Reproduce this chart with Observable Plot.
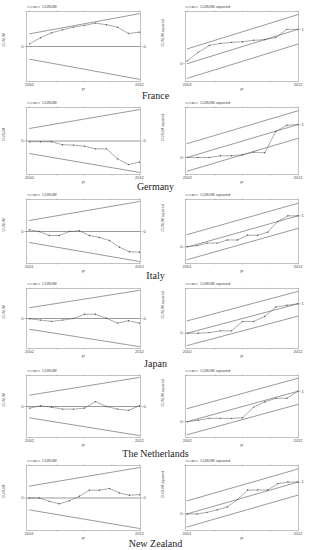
<!DOCTYPE html>
<html><head><meta charset="utf-8">
<script src="https://cdn.jsdelivr.net/npm/d3@7"></script>
<script src="https://cdn.jsdelivr.net/npm/@observablehq/plot@0.6"></script>
<style>
html,body{margin:0;padding:0;background:#fff;}
#root{position:relative;width:311px;height:550px;overflow:hidden;font-family:"Liberation Sans",Arial,sans-serif;}
.panel{position:absolute;}
.country{position:absolute;left:0;width:311px;text-align:center;font-family:"Liberation Serif",serif;font-size:10px;line-height:10px;color:#222;}
.legend{position:absolute;}
</style></head><body><div id="root"></div>
<script>
// ---- data ----
const countries = ["France", "Germany", "Italy", "Japan", "The Netherlands", "New Zealand"];
const years2002 = [2002, 2003, 2004, 2005, 2006, 2007, 2008, 2009, 2010, 2011, 2012];
const years2001 = [2001, 2002, 2003, 2004, 2005, 2006, 2007, 2008, 2009, 2010, 2011, 2012];
const ticks2002 = [2002, 2004.5, 2007, 2009.5, 2012];
const ticks2001 = [2001, 2003.75, 2006.5, 2009.25, 2012];
const countryStartYear = [2002, 2002, 2001, 2002, 2002, 2001];

const cusumFrance      = [0.24, 0.80, 1.25, 1.53, 1.77, 1.93, 2.14, 1.99, 1.77, 1.19, 1.31];
const cusumGermany     = [-0.07, -0.07, -0.07, -0.36, -0.39, -0.49, -0.75, -0.75, -1.69, -2.25, -2.02];
const cusumItaly       = [0.17, 0, -0.40, -0.40, 0, 0.07, -0.40, -0.60, -0.90, -1.57, -2.03, -2.07];
const cusumJapan       = [-0.03, -0.17, -0.31, -0.17, 0, 0.45, 0.45, 0.03, -0.49, -0.24, -0.49];
const cusumNetherlands = [-0.17, 0.07, -0.07, -0.27, -0.27, -0.17, 0.50, 0, -0.27, -0.40, 0.07];
const cusumNewZealand  = [0, 0, -0.33, -0.57, -0.27, 0.17, 0.77, 0.77, 0.93, 0.50, 0.27, 0.33];

const cusumsqFrance      = [0.08, 0.33, 0.53, 0.59, 0.62, 0.64, 0.68, 0.70, 0.76, 1.0, 1.0];
const cusumsqGermany     = [0, 0, 0, 0.05, 0.05, 0.08, 0.16, 0.14, 0.79, 0.98, 1.0];
const cusumsqItaly       = [0.02, 0.05, 0.13, 0.13, 0.23, 0.23, 0.38, 0.38, 0.48, 0.82, 1.0, 1.0];
const cusumsqJapan       = [0, 0, 0.02, 0.08, 0.08, 0.40, 0.40, 0.57, 0.89, 0.95, 1.0];
const cusumsqNetherlands = [0, 0.05, 0.11, 0.11, 0.11, 0.13, 0.48, 0.65, 0.77, 0.77, 1.0];
const cusumsqNewZealand  = [0, 0, 0.05, 0.13, 0.22, 0.45, 0.75, 0.75, 0.75, 0.95, 1.0, 1.0];

// 5% bounds: CUSUM bound at first and last year; CUSUM-squared band half-width
const cusumBoundStart = [1.16, 1.20, 1.10, 1.15, 1.17, 1.17];
const cusumBoundEnd   = [3, 3, 3, 3, 3, 3];
const cusumsqOffset   = [0.43, 0.42, 0.40, 0.42, 0.43, 0.41];

const cusumSeries = [cusumFrance, cusumGermany, cusumItaly, cusumJapan, cusumNetherlands, cusumNewZealand];
const cusumsqSeries = [cusumsqFrance, cusumsqGermany, cusumsqItaly, cusumsqJapan, cusumsqNetherlands, cusumsqNewZealand];

// ---- layout ----
const frameTop    = [11, 107, 199, 288, 375, 465];
const frameBottom = [81, 174, 263, 348, 437, 530];
const labelCenter = [96, 187, 276, 364, 454, 544];
const MT = 3, MB = 12;
const LINE = "#555", FRAME = "#999", TXT = "#444";

const root = document.getElementById("root");

function place(node, left, top) {
  node.classList.add("panel");
  node.style.left = left + "px";
  node.style.top = top + "px";
  root.appendChild(node);
}

function legend(left, top, label) {
  const svg = d3.create("svg").attr("class", "legend").attr("width", 60).attr("height", 6)
    .style("left", left + "px").style("top", top + "px").style("position", "absolute");
  svg.append("line").attr("x1", 0).attr("x2", 13).attr("y1", 3).attr("y2", 3).attr("stroke", LINE).attr("stroke-width", 0.5);
  svg.append("circle").attr("cx", 8).attr("cy", 3).attr("r", 0.7).attr("fill", LINE);
  svg.append("text").attr("x", 15).attr("y", 4.4).attr("font-size", 4).attr("fill", TXT)
    .attr("font-family", "Liberation Sans, Arial, sans-serif").text(label);
  root.appendChild(svg.node());
}

function xAxes(yr, ticks) {
  const x0 = yr[0], x1 = yr[yr.length - 1];
  return [
    Plot.axisX({anchor: "bottom", ticks, tickSize: 1.5, tickPadding: 0.6, stroke: FRAME, strokeWidth: 0.5,
      fill: TXT, tickFormat: d => (d === x0 || d === x1) ? String(d) : "", label: null}),
    Plot.axisX({anchor: "top", ticks, tickSize: 1.5, stroke: FRAME, strokeWidth: 0.5, tickFormat: () => "", label: null}),
    Plot.text(["yr"], {text: d => d, frameAnchor: "bottom", dy: 8, fontSize: 4, fill: TXT})
  ];
}

const plotStyle = {fontFamily: "Liberation Sans, Arial, sans-serif", fontSize: "4px", background: "transparent", overflow: "visible", color: TXT};

countries.forEach((name, i) => {
  const yr = countryStartYear[i] === 2001 ? years2001 : years2002;
  const ticks = countryStartYear[i] === 2001 ? ticks2001 : ticks2002;
  const x0 = yr[0], x1 = yr[yr.length - 1];
  const h = frameBottom[i] - frameTop[i] + MT + MB;

  // ---- CUSUM panel ----
  const cData = yr.map((y, j) => ({yr: y, v: cusumSeries[i][j]}));
  const b0 = cusumBoundStart[i], b1 = cusumBoundEnd[i];
  const left = Plot.plot({
    width: 155, height: h, marginLeft: 26, marginRight: 15, marginTop: MT, marginBottom: MB, style: plotStyle,
    x: {domain: [x0 - 0.28, x1 + 0.1]},
    y: {domain: [-3.2, 3.2]},
    marks: [
      Plot.frame({stroke: FRAME, strokeWidth: 0.6}),
      Plot.ruleY([0], {stroke: LINE, strokeWidth: 0.6}),
      Plot.line([{yr: x0, v: b0}, {yr: x1, v: b1}], {x: "yr", y: "v", stroke: LINE, strokeWidth: 0.6}),
      Plot.line([{yr: x0, v: -b0}, {yr: x1, v: -b1}], {x: "yr", y: "v", stroke: LINE, strokeWidth: 0.6}),
      Plot.line(cData, {x: "yr", y: "v", stroke: LINE, strokeWidth: 0.5}),
      Plot.dot(cData, {x: "yr", y: "v", r: 0.7, fill: LINE}),
      ...xAxes(yr, ticks),
      Plot.axisY({anchor: "left", ticks: [0], tickSize: 2, tickPadding: 1, stroke: FRAME, strokeWidth: 0.5, fill: TXT, tickFormat: d => String(d), label: null}),
      Plot.axisY({anchor: "right", ticks: [0], tickSize: 2, tickPadding: 1, stroke: FRAME, strokeWidth: 0.5, fill: TXT, tickFormat: d => String(d), label: null}),
      Plot.text(["CUSUM"], {text: d => d, frameAnchor: "left", dx: -23, rotate: -90, fontSize: 3.6, fill: TXT})
    ]
  });
  place(left, 0, frameTop[i] - MT);
  legend(27, frameTop[i] - 7, "CUSUM");

  // ---- CUSUM squared panel ----
  const sData = yr.map((y, j) => ({yr: y, v: cusumsqSeries[i][j]}));
  const c = cusumsqOffset[i];
  const right = Plot.plot({
    width: 156, height: h, marginLeft: 30, marginRight: 13, marginTop: MT, marginBottom: MB, style: plotStyle,
    x: {domain: [x0 - 0.15, x1 + 0.05]},
    y: {domain: [-0.52, 1.52]},
    marks: [
      Plot.frame({stroke: FRAME, strokeWidth: 0.6}),
      Plot.line([{yr: x0, v: 0}, {yr: x1, v: 1}], {x: "yr", y: "v", stroke: LINE, strokeWidth: 0.6}),
      Plot.line([{yr: x0, v: c}, {yr: x1, v: 1 + c}], {x: "yr", y: "v", stroke: LINE, strokeWidth: 0.6}),
      Plot.line([{yr: x0, v: -c}, {yr: x1, v: 1 - c}], {x: "yr", y: "v", stroke: LINE, strokeWidth: 0.6}),
      Plot.line(sData, {x: "yr", y: "v", stroke: LINE, strokeWidth: 0.5}),
      Plot.dot(sData, {x: "yr", y: "v", r: 0.7, fill: LINE}),
      ...xAxes(yr, ticks),
      Plot.axisY({anchor: "left", ticks: [0], tickSize: 2, tickPadding: 1, stroke: FRAME, strokeWidth: 0.5, fill: TXT, tickFormat: d => String(d), label: null}),
      Plot.axisY({anchor: "right", ticks: [1], tickSize: 2, tickPadding: 1, stroke: FRAME, strokeWidth: 0.5, fill: TXT, tickFormat: d => String(d), label: null}),
      Plot.text(["CUSUM squared"], {text: d => d, frameAnchor: "left", dx: -23, rotate: -90, fontSize: 3.6, fill: TXT})
    ]
  });
  place(right, 155, frameTop[i] - MT);
  legend(185, frameTop[i] - 7, "CUSUM squared");

  // ---- country label ----
  const lab = document.createElement("div");
  lab.className = "country";
  lab.style.top = (labelCenter[i] - 5) + "px";
  lab.textContent = name;
  root.appendChild(lab);
});
</script>
</body></html>
